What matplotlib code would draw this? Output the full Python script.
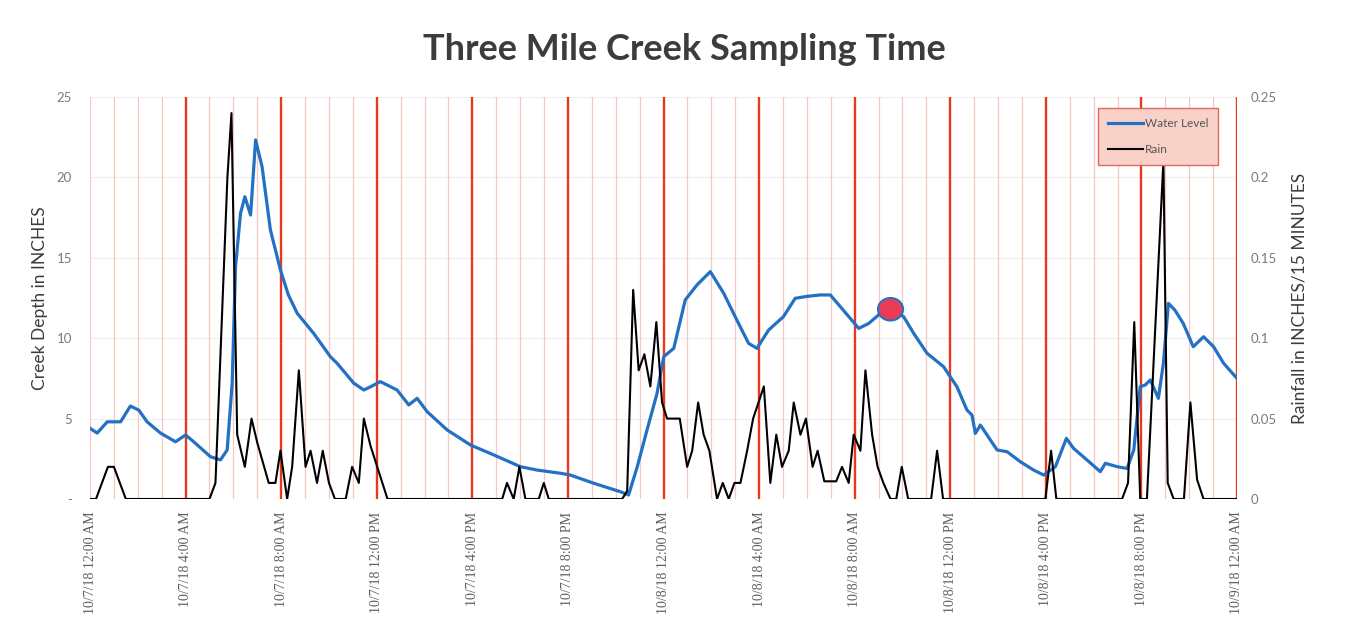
import matplotlib
matplotlib.use("Agg")
import matplotlib.pyplot as plt
from matplotlib.patches import Ellipse
from matplotlib.lines import Line2D

# ---------------- data ----------------
# hours after 10/7/18 12:00 AM
water_hours = [0.0, 0.3, 0.72, 1.28, 1.69, 2.04, 2.39, 2.95, 3.58, 4.0, 4.34, 5.04, 5.46, 5.74,
               5.95, 6.09, 6.3, 6.48, 6.72, 6.93, 7.2, 7.55, 7.97, 8.3, 8.67, 9.36, 10.06, 10.34,
               11.04, 11.46, 11.74, 12.15, 12.85, 13.34, 13.69, 14.11, 14.95, 15.92, 16.9,
               18.01, 18.71, 19.69, 20.1, 21.08, 22.2, 22.54, 22.9, 23.31, 23.73, 24.01, 24.43,
               24.91, 25.4, 25.96, 26.52, 27.07, 27.56, 27.91, 28.4, 29.02, 29.51, 30.0, 30.56,
               30.98, 31.4, 32.17, 32.59, 33.08, 33.52, 34.05, 34.47, 35.03, 35.72, 36.28, 36.7,
               36.91, 37.05, 37.26, 37.68, 37.96, 38.38, 38.93, 39.49, 39.91, 40.4, 40.86,
               41.16, 41.72, 42.28, 42.49, 42.98, 43.4, 43.68, 43.95, 44.16, 44.37, 44.71,
               44.92, 45.13, 45.4, 45.75, 46.17, 46.6, 47.02, 47.44, 48.0]
water_depth = [4.4, 4.1, 4.8, 4.8, 5.78, 5.53, 4.8, 4.1, 3.56, 3.98, 3.56, 2.63, 2.43, 3.05,
               7.2, 14.45, 17.77, 18.8, 17.66, 22.33, 20.67, 16.73, 14.24, 12.7, 11.55, 10.3, 8.85,
               8.44, 7.2, 6.78, 6.98, 7.3, 6.78, 5.85, 6.26, 5.43, 4.29, 3.36, 2.74, 2.01, 1.8,
               1.6, 1.49, 0.98, 0.45, 0.25, 2.0, 4.29, 6.57, 8.85, 9.37, 12.38, 13.31, 14.14,
               12.79, 11.13, 9.68, 9.37, 10.51, 11.34, 12.48, 12.6, 12.69, 12.69, 11.96, 10.61,
               10.92, 11.55, 11.8, 11.34, 10.3, 9.06, 8.23, 6.98, 5.53, 5.22, 4.08, 4.6, 3.67,
               3.05, 2.94, 2.32, 1.8, 1.49, 2.01, 3.77, 3.15, 2.43, 1.7, 2.22, 2.01, 1.9, 3.05,
               6.98, 7.09, 7.4, 6.26, 8.44, 12.17, 11.75, 10.92, 9.47, 10.09, 9.47, 8.44, 7.5]

rain_hours = [0.0, 0.25, 0.75, 1.0, 1.5, 5.0, 5.25, 5.75, 5.92, 6.16, 6.48, 6.76, 7.0, 7.48,
              7.76, 7.97, 8.25, 8.46, 8.74, 9.02, 9.23, 9.5, 9.74, 10.0, 10.25, 10.7, 10.97,
              11.25, 11.46, 11.74, 12.45, 17.25, 17.45, 17.73, 17.97, 18.22, 18.78, 18.99,
              19.2, 22.27, 22.48, 22.73, 22.96, 23.2, 23.45, 23.7, 23.94, 24.15, 24.68, 24.99,
              25.2, 25.45, 25.68, 25.92, 26.24, 26.48, 26.73, 26.97, 27.22, 27.5, 27.75, 28.2,
              28.47, 28.72, 28.96, 29.24, 29.45, 29.73, 29.96, 30.24, 30.45, 30.73, 31.23,
              31.47, 31.75, 31.96, 32.24, 32.45, 32.73, 32.96, 33.2, 33.5, 33.74, 33.97, 34.24,
              35.2, 35.45, 35.7, 39.98, 40.22, 40.44, 43.19, 43.44, 43.7, 43.95, 44.23, 44.92,
              45.1, 45.35, 45.78, 46.05, 46.33, 46.6, 48.0]
rain_inches = [0, 0, 0.02, 0.02, 0, 0, 0.01, 0.2, 0.24, 0.04, 0.02, 0.05, 0.035, 0.01,
               0.01, 0.03, 0, 0.02, 0.08, 0.02, 0.03, 0.01, 0.03, 0.01, 0, 0, 0.02,
               0.01, 0.05, 0.033, 0, 0, 0.01, 0, 0.02, 0, 0, 0.01,
               0, 0, 0.005, 0.13, 0.08, 0.09, 0.07, 0.11, 0.06, 0.05, 0.05, 0.02,
               0.03, 0.06, 0.04, 0.03, 0, 0.01, 0, 0.01, 0.01, 0.03, 0.05, 0.07,
               0.01, 0.04, 0.02, 0.03, 0.06, 0.04, 0.05, 0.02, 0.03, 0.011, 0.011,
               0.02, 0.01, 0.04, 0.03, 0.08, 0.04, 0.02, 0.01, 0, 0, 0.02, 0,
               0, 0.03, 0, 0, 0.03, 0, 0, 0.01, 0.11, 0, 0, 0.21,
               0.01, 0, 0, 0.06, 0.012, 0, 0]

sample_hour = 33.5
sample_depth = 11.8

tick_hours = [0, 4, 8, 12, 16, 20, 24, 28, 32, 36, 40, 44, 48]
tick_labels = ["10/7/18 12:00 AM", "10/7/18 4:00 AM", "10/7/18 8:00 AM", "10/7/18 12:00 PM",
               "10/7/18 4:00 PM", "10/7/18 8:00 PM", "10/8/18 12:00 AM", "10/8/18 4:00 AM",
               "10/8/18 8:00 AM", "10/8/18 12:00 PM", "10/8/18 4:00 PM", "10/8/18 8:00 PM",
               "10/9/18 12:00 AM"]
depth_ticks = [0, 5, 10, 15, 20, 25]
depth_labels = ["-", "5", "10", "15", "20", "25"]
rain_ticks = [0, 0.05, 0.1, 0.15, 0.2, 0.25]
rain_labels = ["0", "0.05", "0.1", "0.15", "0.2", "0.25"]

# ---------------- figure ----------------
W, H = 1354, 631
fig = plt.figure(figsize=(W / 100, H / 100), dpi=100)
fig.patch.set_facecolor("white")
ax = fig.add_axes([90 / W, 1 - 499 / H, (1237 - 90) / W, (499 - 97) / H])
ax2 = ax.twinx()

grey_txt = "#7a7a7a"
dark_txt = "#3c3c3c"
blue = "#2470c4"

ax.set_xlim(0, 48)
ax.set_ylim(0, 25)
ax2.set_ylim(0, 0.25)

# vertical hour lines (light) and 4-hour lines (red)
for h in range(0, 49):
    if h % 4 == 0 and 0 < h:
        ax.axvline(h, color="#e8391f", lw=1.7, zorder=1)
    else:
        ax.axvline(h, color="#f6c8bf", lw=0.9, zorder=0.5)
for v in depth_ticks[1:]:
    ax.axhline(v, color="#eeeeee", lw=0.8, zorder=0.4)

ax.plot(water_hours, water_depth, color=blue, lw=2.3, zorder=3, solid_joinstyle="round")
ax.add_patch(Ellipse((sample_hour, sample_depth), 1.05, 1.4, facecolor="#ec3c55",
                     edgecolor=blue, lw=1.5, zorder=4))
ax2.plot(rain_hours, rain_inches, color="black", lw=1.5, zorder=3)

for a in (ax, ax2):
    for s in a.spines.values():
        s.set_visible(False)
    a.tick_params(length=0)

ax.set_xticks(tick_hours)
ax.set_xticklabels(tick_labels, rotation=90, family="Liberation Serif",
                   fontsize=10, color="#5e5e5e", va="top")
ax.tick_params(axis="x", pad=9)
ax.set_yticks(depth_ticks)
ax.set_yticklabels(depth_labels, family="Lato", fontsize=9.5, color=grey_txt)
ax.tick_params(axis="y", pad=13)
ax2.set_yticks(rain_ticks)
ax2.set_yticklabels(rain_labels, family="Lato", fontsize=9.5, color=grey_txt)
ax2.tick_params(axis="y", pad=10)

ax.set_ylabel("Creek Depth in INCHES", family="Lato", fontsize=12.5, color=dark_txt, labelpad=6)
ax2.set_ylabel("Rainfall in INCHES/15 MINUTES", family="Lato", fontsize=12.5,
               color=dark_txt, labelpad=10)

fig.text(684 / W, 1 - 50 / H, "Three Mile Creek Sampling Time", family="Lato",
         fontweight="bold", fontsize=26, color=dark_txt, ha="center", va="center")

handles = [Line2D([], [], color=blue, lw=2.3), Line2D([], [], color="black", lw=1.5)]
leg = ax2.legend(handles, ["Water Level", "Rain"], loc="upper left",
                 bbox_to_anchor=((1098 - 90) / (1237 - 90), 1 - (108 - 97) / (499 - 97)),
                 frameon=True, fancybox=False, prop={"family": "Lato", "size": 8.5},
                 handlelength=3.0, handletextpad=0.1, labelspacing=1.25,
                 borderpad=0.85, borderaxespad=0)
leg.get_frame().set_facecolor("#f8d2c9")
leg.get_frame().set_edgecolor("#e06a5a")
leg.get_frame().set_alpha(1)
leg.get_frame().set_linewidth(1.0)
for t in leg.get_texts():
    t.set_color("#555555")

fig.savefig("out.png", dpi=100, facecolor="white")
